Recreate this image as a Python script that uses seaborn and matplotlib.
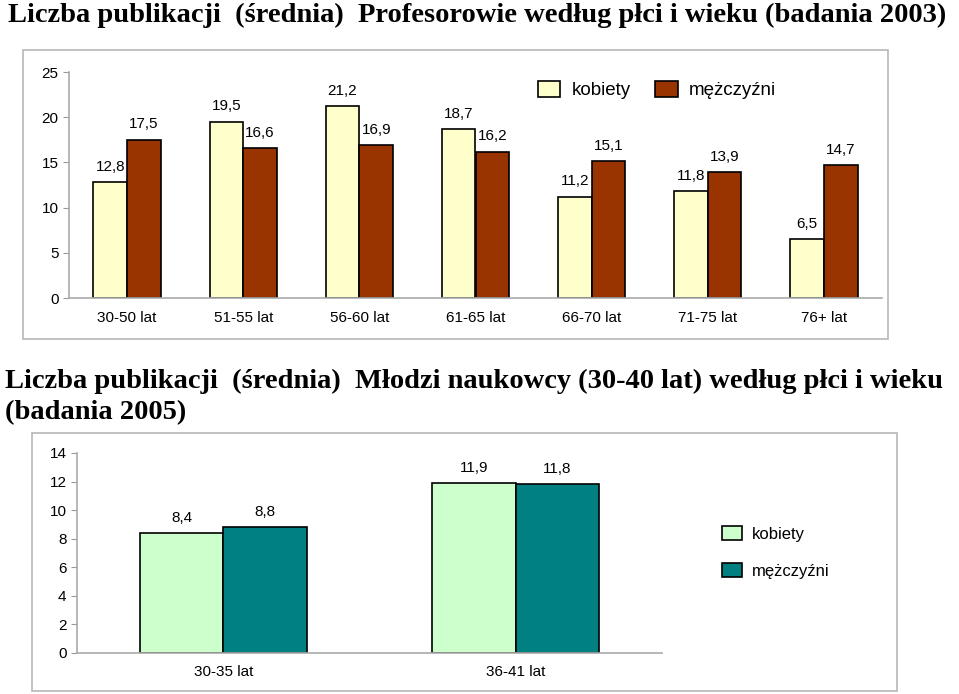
import pandas as pd
import matplotlib.pyplot as plt
import seaborn as sns
from matplotlib.patches import Rectangle

# Dane: profesorowie (badania 2003)
wiek_prof = ['30-50 lat', '51-55 lat', '56-60 lat', '61-65 lat', '66-70 lat', '71-75 lat', '76+ lat']
kobiety_prof = [12.8, 19.5, 21.2, 18.7, 11.2, 11.8, 6.5]
mezczyzni_prof = [17.5, 16.6, 16.9, 16.2, 15.1, 13.9, 14.7]

# Dane: młodzi naukowcy (badania 2005)
wiek_mlodzi = ['30-35 lat', '36-41 lat']
kobiety_mlodzi = [8.4, 11.9]
mezczyzni_mlodzi = [8.8, 11.8]

plec = ['kobiety', 'mężczyźni']

W, H = 959, 694
sns.set_style('white')
plt.rcParams['font.family'] = ['Liberation Sans', 'DejaVu Sans']
plt.rcParams['text.color'] = 'black'
plt.rcParams['xtick.color'] = 'black'
plt.rcParams['ytick.color'] = 'black'

fig = plt.figure(figsize=(W / 100, H / 100), dpi=100)


def px_box(x0, y0, x1, y1):
    # piksele -> współrzędne figury
    return [x0 / W, 1 - y1 / H, (x1 - x0) / W, (y1 - y0) / H]


def ramka(x0, y0, x1, y1):
    b = px_box(x0, y0, x1, y1)
    fig.patches.append(Rectangle((b[0], b[1]), b[2], b[3], transform=fig.transFigure,
                                 fill=False, edgecolor='#b8b8b8', linewidth=1.2))


def wykres(ax, wiek, kob, mez, kolory, ymax, ystep, szer):
    df = pd.DataFrame({'wiek': wiek * 2, 'plec': [plec[0]] * len(wiek) + [plec[1]] * len(wiek),
                       'wartosc': kob + mez})
    sns.barplot(data=df, x='wiek', y='wartosc', hue='plec', palette=kolory, width=szer,
                saturation=1, edgecolor='black', linewidth=1.2, ax=ax, legend=True)
    for cont in ax.containers:
        ax.bar_label(cont, labels=[f'{v:.1f}'.replace('.', ',') for v in cont.datavalues],
                     padding=6, fontsize=11)
    n = len(wiek)
    ax.set_xlim(-0.5, n - 0.5)
    ax.set_ylim(0, ymax)
    ax.set_yticks(range(0, ymax + 1, ystep))
    ax.set_xticks([i - 0.5 for i in range(n + 1)], minor=True)
    ax.tick_params(axis='x', which='major', length=0, labelsize=11, pad=9)
    ax.tick_params(axis='x', which='minor', length=4, color='#999999', direction='out')
    ax.tick_params(axis='y', length=4, color='#999999', labelcolor='black', direction='out',
                   labelsize=11, left=True)
    ax.set_xlabel('')
    ax.set_ylabel('')
    for s in ['top', 'right']:
        ax.spines[s].set_visible(False)
    for s in ['left', 'bottom']:
        ax.spines[s].set_color('#aaaaaa')
        ax.spines[s].set_linewidth(1.2)


# Wykres górny
ramka(23, 50, 888, 339)
ax1 = fig.add_axes(px_box(69, 72, 882, 298))
wykres(ax1, wiek_prof, kobiety_prof, mezczyzni_prof, ['#ffffcc', '#993300'], 25, 5, 0.58)
h, l = ax1.get_legend_handles_labels()
ax1.legend(h, l, ncol=2, frameon=False, fontsize=13.5, loc='upper left',
           bbox_to_anchor=(521 / W, 1 - 64 / H), bbox_transform=fig.transFigure,
           handlelength=1.2, handleheight=0.95, columnspacing=1.3, handletextpad=0.6)

# Wykres dolny
ramka(32, 433, 897, 691)
ax2 = fig.add_axes(px_box(77, 453, 662, 653))
wykres(ax2, wiek_mlodzi, kobiety_mlodzi, mezczyzni_mlodzi, ['#ccffcc', '#008080'], 14, 2, 0.57)
h, l = ax2.get_legend_handles_labels()
ax2.legend(h, l, ncol=1, frameon=False, fontsize=12, loc='upper left',
           bbox_to_anchor=(707 / W, 1 - 511 / H), bbox_transform=fig.transFigure,
           handlelength=1.2, handleheight=0.95, labelspacing=1.25, handletextpad=0.6)

# Tytuły
tyt = dict(fontfamily='Liberation Serif', fontweight='bold', fontsize=20.5, ha='left', va='baseline')
fig.text(8 / W, 1 - 22 / H,
         'Liczba publikacji  (średnia)  Profesorowie według płci i wieku (badania 2003)', **tyt)
fig.text(5 / W, 1 - 388 / H,
         'Liczba publikacji  (średnia)  Młodzi naukowcy (30-40 lat) według płci i wieku', **tyt)
fig.text(5 / W, 1 - 419 / H, '(badania 2005)', **tyt)

fig.savefig('out.png', dpi=100)
